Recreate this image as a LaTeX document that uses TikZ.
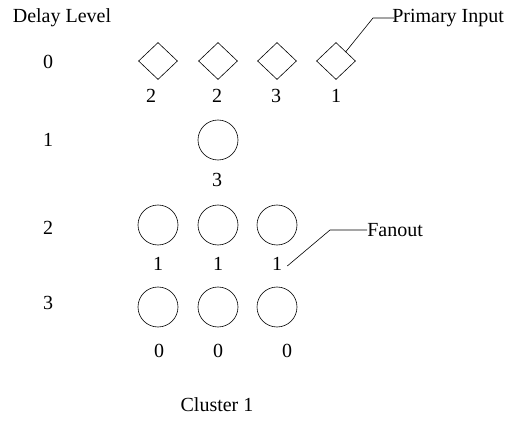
\documentclass[tikz,border=0pt]{standalone}
\usepackage{fontspec}
\setmainfont{Liberation Serif}
\usetikzlibrary{shapes.geometric}

\begin{document}
\begin{tikzpicture}[x=1pt, y=-1pt, semithick, every node/.style={font=\fontsize{20}{22}\selectfont, inner sep=1pt}]
  \tikzset{
    inputgate/.style={draw, diamond, minimum width=39pt, minimum height=37pt, inner sep=0pt},
    gate/.style={draw, circle, minimum size=40pt, inner sep=0pt},
  }
  \useasboundingbox (0,0) rectangle (515,428);
  % delay levels
  \node (title) at (62,18) {Delay Level};
  \foreach \y/\lv in {62/0,140/1,228/2,303/3}
    \node (lv\lv) at (48,\y) {\lv};
  % level 0: primary inputs with their fanout
  \foreach \x/\lx/\n/\fo in {158/151/a/2,218/217/b/2,277/276/c/3,336/336/d/1} {
    \node[inputgate] (pi\n) at (\x,61) {};
    \node (fopi\n) at (\lx,96) {\fo};
  }
  % level 1
  \node[gate] (g1) at (218,140) {};
  \node (fog1) at (217,180) {3};
  % levels 2 and 3
  \foreach \x/\n in {158/a,218/b,277/c} {
    \node[gate] (g2\n) at (\x,225) {};
    \node (fog2\n) at (\x,264) {1};
    \node[gate] (g3\n) at (\x,307) {};
  }
  \node (fog3a) at (159,351) {0};
  \node (fog3b) at (218,351) {0};
  \node (fog3c) at (287,351) {0};
  % callouts
  \coordinate (pibend) at (373,18);
  \node[anchor=west] (pitext) at (391,18) {Primary Input};
  \draw (pid.north east) -- (pibend) -- ([xshift=3pt]pitext.west);
  \coordinate (fobend) at (330,230);
  \node[anchor=west] (fotext) at (366,230) {Fanout};
  \draw ([xshift=4pt,yshift=-2pt]fog2c.east) -- (fobend) -- ([xshift=1pt]fotext.west);
  \node (cluster) at (217,405) {Cluster 1};
\end{tikzpicture}
\end{document}
